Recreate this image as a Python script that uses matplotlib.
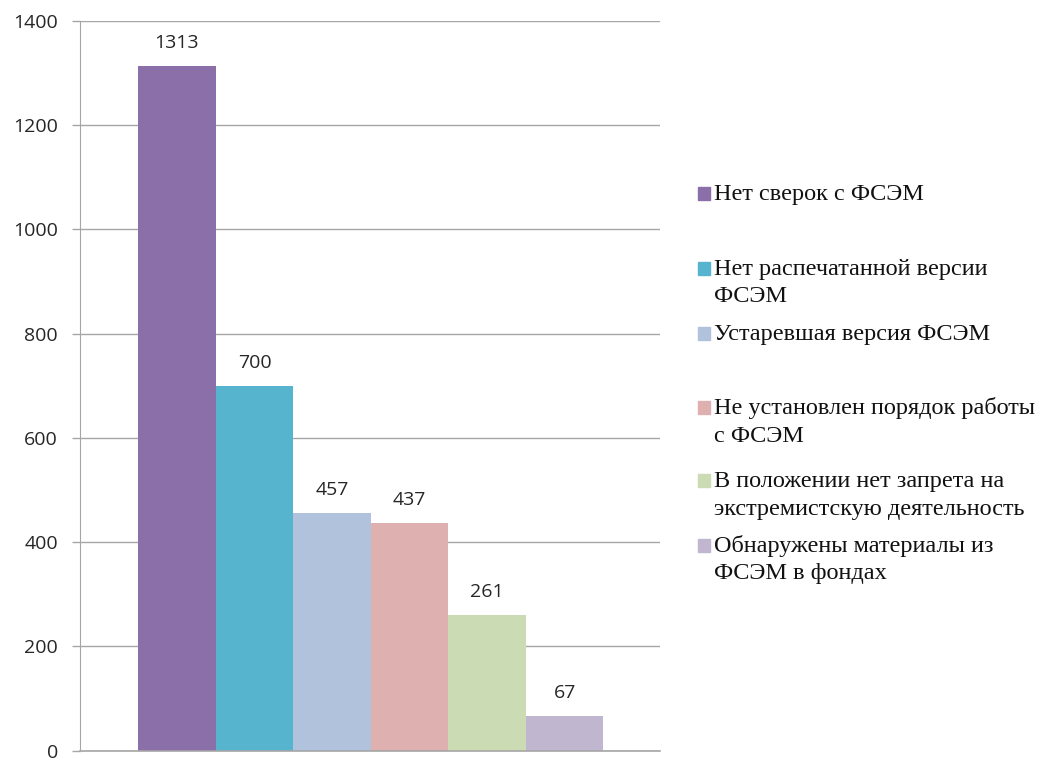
import matplotlib
matplotlib.use("Agg")
import matplotlib.pyplot as plt
from matplotlib.patches import Rectangle

categories = [
    ["Нет сверок с ФСЭМ"],
    ["Нет распечатанной версии", "ФСЭМ"],
    ["Устаревшая версия ФСЭМ"],
    ["Не установлен порядок работы", "с ФСЭМ"],
    ["В положении нет запрета на", "экстремистскую деятельность"],
    ["Обнаружены материалы из", "ФСЭМ в фондах"],
]
values = [1313, 700, 457, 437, 261, 67]
colors = ["#8a6fa9", "#57b4ce", "#b0c2dc", "#dfb0b0", "#cbdbb3", "#c0b6d0"]
yticks = [0, 200, 400, 600, 800, 1000, 1200, 1400]

W, H = 1042, 771
fig = plt.figure(figsize=(W / 100, H / 100), dpi=100)
ax = fig.add_axes([80 / W, 1 - 750.7 / H, 580 / W, (750.7 - 21) / H])

xs = list(range(len(values)))
ax.bar(xs, values, width=1.0, color=colors, zorder=3)
for x, v in zip(xs, values):
    ax.annotate(str(v), (x, v), xytext=(0, 23), textcoords="offset pixels",
                ha="center", va="center", fontsize=14, family="Open Sans",
                color="#262626")

ax.set_xlim(-1.25, 6.23)
ax.set_ylim(0, 1400)
ax.set_yticks(yticks)
ax.set_yticklabels([str(t) for t in yticks], fontsize=14, family="Open Sans",
                   color="#262626")
ax.set_xticks([])
ax.grid(axis="y", color="#a6a6a6", lw=1, zorder=0)
ax.axhline(0, color="#a6a6a6", lw=1.2, clip_on=False, zorder=4)
ax.tick_params(axis="y", length=6, width=1, color="#a6a6a6", pad=10)
for s in ["top", "right", "bottom"]:
    ax.spines[s].set_visible(False)
ax.spines["left"].set_color("#a6a6a6")

# legend drawn by hand, Excel-style uneven slots
baselines = [200, 275, 340, 414, 487, 552]
for lines, c, yb in zip(categories, colors, baselines):
    fig.patches.append(Rectangle((698 / W, 1 - yb / H), 12 / W, 13 / H,
                                 transform=fig.transFigure, color=c))
    for i, line in enumerate(lines):
        fig.text(714 / W, 1 - (yb + 27.5 * i) / H, line, fontsize=17.5,
                 family="Liberation Serif", va="baseline", ha="left",
                 color="#111111")

fig.savefig("out.png", dpi=100)
